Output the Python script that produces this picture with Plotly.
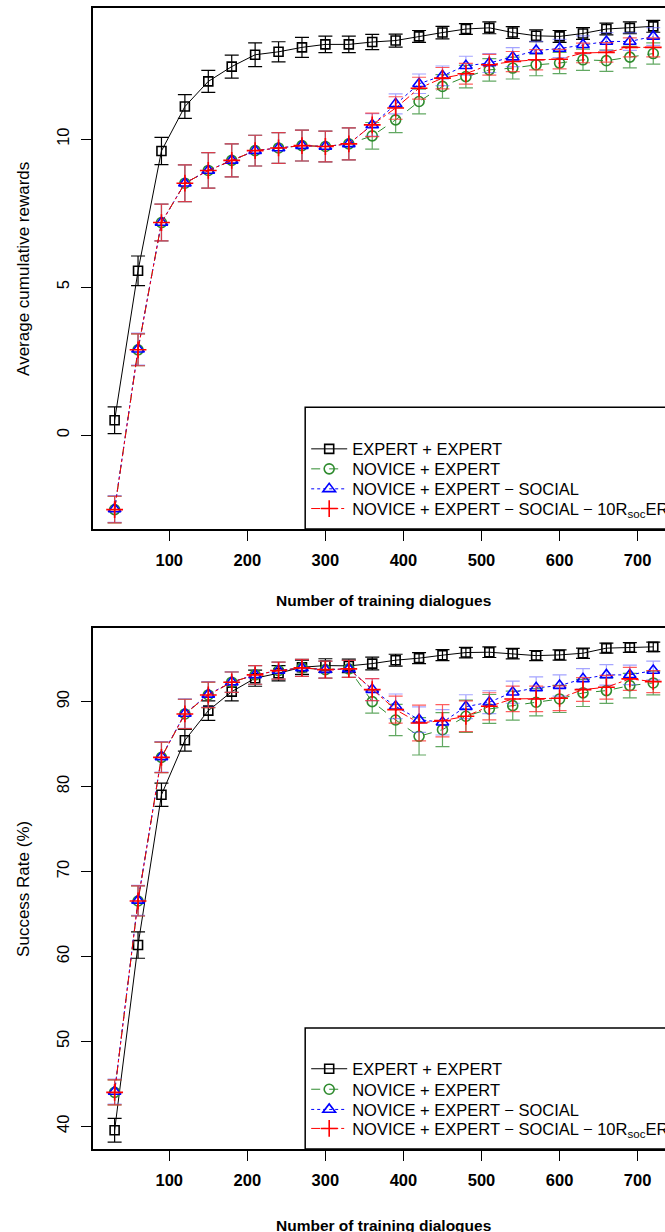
import plotly.graph_objects as go

# ---------------- data ----------------
dialogues = [30, 60, 90, 120, 150, 180, 210, 240, 270, 300, 330, 360,
             390, 420, 450, 480, 510, 540, 570, 600, 630, 660, 690, 720]

series_names = [
    "EXPERT + EXPERT",
    "NOVICE + EXPERT",
    "NOVICE + EXPERT \u2212 SOCIAL",
    "NOVICE + EXPERT \u2212 SOCIAL \u2212 10R<sub>soc</sub>ER",
]

# Average cumulative rewards
rew_expert = [0.50, 5.55, 9.60, 11.10, 11.95, 12.45, 12.85, 12.95, 13.10, 13.20, 13.20, 13.28,
              13.33, 13.47, 13.60, 13.72, 13.76, 13.60, 13.49, 13.47, 13.57, 13.72, 13.76, 13.81]
rew_expert_err = [0.45, 0.50, 0.46, 0.40, 0.37, 0.39, 0.40, 0.34, 0.34, 0.28, 0.28, 0.26,
                  0.22, 0.20, 0.21, 0.18, 0.20, 0.20, 0.20, 0.20, 0.20, 0.20, 0.20, 0.20]
rew_novice = [-2.52, 2.88, 7.18, 8.51, 8.94, 9.28, 9.61, 9.70, 9.78, 9.75, 9.84, 10.11,
              10.65, 11.27, 11.78, 12.11, 12.34, 12.40, 12.51, 12.57, 12.68, 12.65, 12.77, 12.89]
rew_novice_err = [0.45, 0.54, 0.62, 0.62, 0.60, 0.56, 0.52, 0.52, 0.52, 0.52, 0.54, 0.45,
                  0.43, 0.42, 0.40, 0.38, 0.38, 0.37, 0.37, 0.36, 0.36, 0.36, 0.36, 0.36]
rew_social = [-2.50, 2.90, 7.18, 8.51, 8.94, 9.28, 9.61, 9.70, 9.78, 9.75, 9.84, 10.48,
              11.19, 11.87, 12.14, 12.48, 12.57, 12.77, 12.99, 13.06, 13.19, 13.30, 13.30, 13.47]
rew_social_err = [0.45, 0.54, 0.62, 0.62, 0.60, 0.56, 0.52, 0.52, 0.52, 0.52, 0.54, 0.38,
                  0.34, 0.33, 0.33, 0.32, 0.32, 0.32, 0.31, 0.31, 0.30, 0.30, 0.30, 0.30]
rew_social10 = [-2.52, 2.88, 7.18, 8.51, 8.94, 9.28, 9.61, 9.70, 9.78, 9.75, 9.84, 10.48,
                11.05, 11.72, 12.06, 12.21, 12.51, 12.62, 12.68, 12.70, 12.91, 12.93, 13.10, 13.10]
rew_social10_err = [0.45, 0.54, 0.62, 0.62, 0.60, 0.56, 0.52, 0.52, 0.52, 0.52, 0.54, 0.40,
                    0.38, 0.37, 0.36, 0.35, 0.35, 0.34, 0.34, 0.33, 0.33, 0.33, 0.32, 0.32]

# Success rate (%)
sr_expert = [39.53, 61.34, 79.03, 85.45, 88.94, 91.18, 92.76, 93.35, 94.05, 94.25, 94.21, 94.48,
             94.88, 95.12, 95.47, 95.78, 95.82, 95.66, 95.42, 95.50, 95.70, 96.30, 96.37, 96.45]
sr_expert_err = [1.40, 1.55, 1.37, 1.28, 1.14, 1.10, 0.95, 0.90, 0.85, 0.80, 0.80, 0.75,
                 0.70, 0.65, 0.65, 0.62, 0.62, 0.62, 0.60, 0.60, 0.60, 0.58, 0.58, 0.55]
sr_novice = [44.00, 66.53, 83.44, 88.55, 90.79, 92.29, 93.15, 93.66, 93.97, 93.77, 93.86, 90.00,
             87.84, 85.92, 86.70, 88.28, 89.14, 89.53, 89.93, 90.32, 91.03, 91.30, 91.89, 92.20]
sr_novice_err = [1.47, 1.77, 1.80, 1.73, 1.50, 1.20, 1.10, 1.00, 1.00, 1.00, 1.00, 1.35,
                 1.85, 2.20, 2.00, 1.90, 1.70, 1.70, 1.60, 1.60, 1.60, 1.50, 1.45, 1.40]
sr_social = [44.10, 66.60, 83.50, 88.60, 90.85, 92.30, 93.15, 93.66, 93.97, 93.77, 93.86, 91.42,
             89.45, 87.88, 87.57, 89.41, 89.93, 91.11, 91.62, 91.89, 92.68, 93.15, 93.15, 93.66]
sr_social_err = [1.47, 1.77, 1.80, 1.73, 1.50, 1.20, 1.10, 1.00, 1.00, 1.00, 1.00, 1.30,
                 1.45, 1.50, 1.50, 1.40, 1.35, 1.30, 1.30, 1.25, 1.20, 1.20, 1.15, 1.10]
sr_social10 = [44.00, 66.53, 83.44, 88.55, 90.79, 92.29, 93.15, 93.66, 93.97, 93.77, 93.86, 91.42,
               89.06, 87.49, 87.76, 88.28, 89.45, 90.32, 90.32, 90.40, 91.42, 91.70, 92.68, 92.36]
sr_social10_err = [1.47, 1.77, 1.80, 1.73, 1.50, 1.20, 1.10, 1.00, 1.00, 1.00, 1.00, 1.30,
                   1.60, 2.10, 1.90, 1.80, 1.60, 1.50, 1.50, 1.45, 1.40, 1.40, 1.35, 1.30]

x_ticks = [100, 200, 300, 400, 500, 600, 700]
rew_ticks = [0, 5, 10]
sr_ticks = [40, 50, 60, 70, 80, 90]

# ---------------- styling ----------------
FONT = "Liberation Sans, Arial, Helvetica, sans-serif"
styles = [
    dict(color="black", dash="solid", symbol="square-open", size=9,
         err="black"),
    dict(color="#2e8b2e", dash="dash", symbol="circle-open", size=10,
         err="rgba(46,139,46,0.75)"),
    dict(color="blue", dash="dot", symbol="triangle-up-open", size=11,
         err="rgba(90,90,255,0.55)"),
    dict(color="red", dash="dashdot", symbol="cross-thin-open", size=12,
         err="rgba(255,40,40,0.75)"),
]

# figure is wider than the window: the right part of the panels is cropped,
# as in the reference (page body margin removed in post_script)
W, H = 673, 1232
ML, MR, MT, MB = 92.7, 0, 8.1, 82.7
PH = H - MT - MB
PW = W - ML - MR
top_dom = [(1149.3 - 529.3) / PH, 1.0]
bot_dom = [0.0, (1149.3 - 628.3) / PH]


def px_x(page_x):
    return (page_x - ML) / PW


def px_y(page_y):
    return 1 - (page_y - MT) / PH


fig = go.Figure()

legend_rows_top = [449.3, 469.3, 489.3, 509.0]
legend_rows_bot = [1069.3, 1089.8, 1110.0, 1129.0]

panels = [
    ("1", [rew_expert, rew_novice, rew_social, rew_social10],
     [rew_expert_err, rew_novice_err, rew_social_err, rew_social10_err], 0),
    ("2", [sr_expert, sr_novice, sr_social, sr_social10],
     [sr_expert_err, sr_novice_err, sr_social_err, sr_social10_err], 4),
]

legend_layouts = {}
for ax, ys, errs, leg0 in panels:
    xa = "x" if ax == "1" else "x2"
    ya = "y" if ax == "1" else "y2"
    rows = legend_rows_top if ax == "1" else legend_rows_bot
    for i, (name, yv, ev, st) in enumerate(zip(series_names, ys, errs, styles)):
        k = leg0 + i + 1
        leg = "legend" if k == 1 else f"legend{k}"
        fig.add_trace(go.Scatter(
            x=dialogues, y=yv, name=name, mode="lines+markers",
            xaxis=xa, yaxis=ya, legend=leg,
            line=dict(color=st["color"], dash=st["dash"], width=1),
            marker=dict(symbol=st["symbol"], size=st["size"], color=st["color"],
                        line=dict(color=st["color"], width=1.6)),
            error_y=dict(type="data", array=ev, visible=True,
                         color=st["err"], thickness=1.2, width=7),
        ))
        legend_layouts[leg] = dict(
            x=px_x(306), y=px_y(rows[i]), xanchor="left", yanchor="middle",
            bgcolor="rgba(0,0,0,0)", borderwidth=0, itemwidth=36,
            font=dict(family=FONT, size=16.5, color="black"))

tick_font_x = dict(family=FONT, size=16.5, color="black", weight="bold")
tick_font_y = dict(family=FONT, size=16.5, color="black")
axis_common = dict(showline=True, linecolor="black", linewidth=1.6,
                   ticks="outside", ticklen=10, tickwidth=1.3, tickcolor="black",
                   showgrid=False, zeroline=False)

fig.update_layout(
    width=W, height=H,
    margin=dict(l=ML, r=MR, t=MT, b=MB, autoexpand=False),
    paper_bgcolor="white", plot_bgcolor="white",
    showlegend=True,
    xaxis=dict(domain=[0, 1], range=[2.3, 745.3], anchor="y", tickvals=x_ticks,
               mirror=True, ticklabelstandoff=5, tickfont=tick_font_x, **axis_common),
    yaxis=dict(domain=top_dom, range=[-3.18, 14.43], anchor="x", tickvals=rew_ticks,
               tickangle=-90, ticklabelstandoff=6, tickfont=tick_font_y, **axis_common),
    xaxis2=dict(domain=[0, 1], range=[2.3, 745.3], anchor="y2", tickvals=x_ticks,
                mirror=True, ticklabelstandoff=5, tickfont=tick_font_x, **axis_common),
    yaxis2=dict(domain=bot_dom, range=[37.33, 98.66], anchor="x2", tickvals=sr_ticks,
                tickangle=-90, ticklabelstandoff=6, tickfont=tick_font_y, **axis_common),
    **legend_layouts,
)

# legend frames (boxes extend beyond the cropped right edge)
for xr, yr, ytop in [("x domain", "y domain", (529.3 - 407.3) / 521.2),
                     ("x2 domain", "y2 domain", (1149.3 - 1028.3) / 521.0)]:
    fig.add_shape(type="rect", xref=xr, yref=yr, x0=px_x(305), x1=1.05,
                  y0=0, y1=ytop, line=dict(color="black", width=1.5),
                  fillcolor="white", layer="below")

# axis titles
title_font_x = dict(family=FONT, size=15.5, color="black", weight="bold")
title_font_y = dict(family=FONT, size=17, color="black")
fig.add_annotation(text="Number of training dialogues", xref="x", yref="y domain",
                   x=374, y=0, yshift=-71, showarrow=False, yanchor="middle",
                   font=title_font_x)
fig.add_annotation(text="Number of training dialogues", xref="x2", yref="y2 domain",
                   x=374, y=0, yshift=-76, showarrow=False, yanchor="middle",
                   font=title_font_x)
fig.add_annotation(text="Average cumulative rewards", xref="paper", yref="y domain",
                   x=px_x(23), y=0.5, textangle=-90, showarrow=False,
                   xanchor="center", yanchor="middle", font=title_font_y)
fig.add_annotation(text="Success Rate (%)", xref="paper", yref="y2 domain",
                   x=px_x(23), y=0.5, textangle=-90, showarrow=False,
                   xanchor="center", yanchor="middle", font=title_font_y)

fig.write_html(
    "out.html",
    config={"displayModeBar": False},
    post_script="document.body.style.margin='0';"
                "document.documentElement.style.overflow='hidden';"
                "document.body.style.overflow='hidden';",
)
